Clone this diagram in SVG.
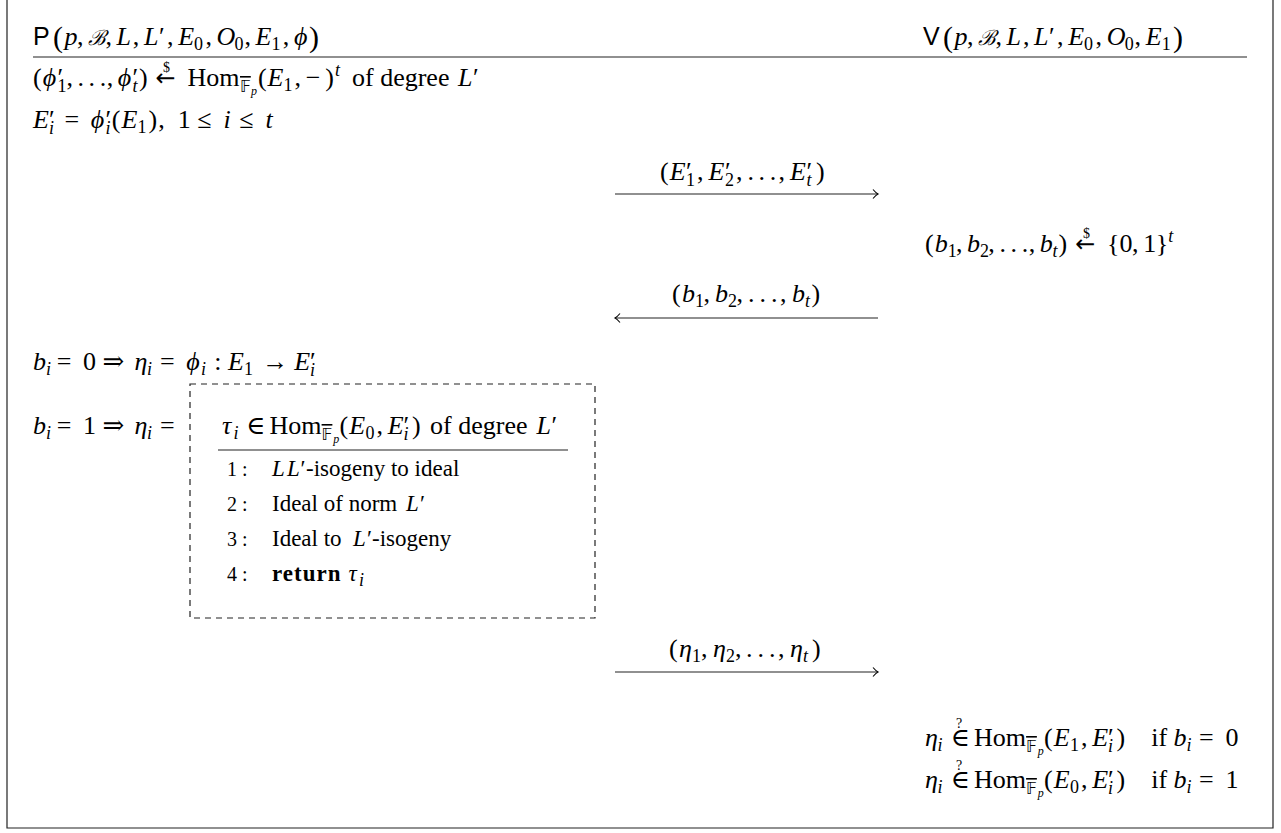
<svg xmlns="http://www.w3.org/2000/svg" width="1281" height="833" viewBox="0 0 1281 833">
<style>
.t{font-family:"Liberation Serif","DejaVu Serif",serif;font-size:26px;fill:#000}
.i{font-style:italic}
.sf{font-family:"Liberation Sans",sans-serif;font-size:25px}
.s{font-size:18px}
.ss{font-size:12px}
.q{font-size:14px}
.b{font-weight:bold}
.bb{font-family:"DejaVu Sans",sans-serif;font-size:16px;fill:#000}
.big{font-size:30px}
.cal{font-size:21px}
.ar{font-family:"DejaVu Sans",sans-serif;font-size:24px}
.sm{font-size:23px}
.nm{font-size:20px}
.ln{stroke:#222;stroke-width:1.2;fill:none}
.ah{stroke:#000;stroke-width:1.1;fill:none}
</style>
<g id="frame"><path class="ln" d="M7,0 V828 H1273 V0"/></g>
<g id="prover">
<text class="t" y="45"><tspan class="sf" x="33">P</tspan><tspan class="big" x="53" y="47">(</tspan><tspan class="i" x="64.5" y="45">p</tspan><tspan x="77.1">,</tspan><tspan class="i cal" x="87.5">ℬ</tspan><tspan x="105.5">,</tspan><tspan class="i" x="116.5">L</tspan><tspan x="132.8">,</tspan><tspan class="i" x="144">L</tspan><tspan x="159">′</tspan><tspan x="167">,</tspan><tspan class="i" x="178.2">E</tspan><tspan class="s" x="194" y="50">0</tspan><tspan x="205.4" y="45">,</tspan><tspan class="i" x="216.5">O</tspan><tspan class="s" x="234.5" y="50">0</tspan><tspan x="244.4" y="45">,</tspan><tspan class="i" x="255.5">E</tspan><tspan class="s" x="271.5" y="50">1</tspan><tspan x="282.7" y="45">,</tspan><tspan class="i" x="293.9">ϕ</tspan><tspan class="big" x="309" y="47">)</tspan></text>
<line class="ln" x1="33" y1="57" x2="1247" y2="57"/>
<text class="t" y="86"><tspan x="33">(</tspan><tspan class="i" x="42.7">ϕ</tspan><tspan x="57.5">′</tspan><tspan class="s" x="57.5" y="92">1</tspan><tspan x="66.4" y="86">,</tspan><tspan x="77.5">.</tspan><tspan x="88.6">.</tspan><tspan x="99.7">.</tspan><tspan x="106.7">,</tspan><tspan class="i" x="117.8">ϕ</tspan><tspan x="132.6">′</tspan><tspan class="s i" x="132.6" y="92">t</tspan><tspan x="139" y="86">)</tspan><tspan class="ar" x="155.6">←</tspan><tspan class="q" x="163" y="72">$</tspan><tspan x="187.6" y="86">Hom</tspan><tspan class="bb" x="240" y="92" text-decoration="overline">𝔽</tspan><tspan class="ss i" x="251" y="95">p</tspan><tspan x="258" y="86">(</tspan><tspan class="i" x="267.4">E</tspan><tspan class="s" x="283.5" y="91">1</tspan><tspan x="294.6" y="86">,</tspan><tspan x="305.8">−</tspan><tspan x="325.2">)</tspan><tspan class="s i" x="335" y="76">t</tspan><tspan x="352" y="86">of degree</tspan><tspan class="i" x="458">L</tspan><tspan x="473">′</tspan></text>
<text class="t" y="128"><tspan class="i" x="33">E</tspan><tspan x="49">′</tspan><tspan class="s i" x="49" y="134">i</tspan><tspan x="64.4" y="128">=</tspan><tspan class="i" x="90.8">ϕ</tspan><tspan x="105.5">′</tspan><tspan class="s i" x="105.5" y="134">i</tspan><tspan x="111.7" y="128">(</tspan><tspan class="i" x="121.4">E</tspan><tspan class="s" x="137.5" y="133">1</tspan><tspan x="148.6" y="128">)</tspan><tspan x="158.3">,</tspan><tspan x="177.8">1</tspan><tspan x="197.2">≤</tspan><tspan class="i" x="223.6">i</tspan><tspan x="239.2">≤</tspan><tspan class="i" x="265.6">t</tspan></text>
<text class="t" y="370"><tspan class="i" x="33">b</tspan><tspan class="s i" x="46" y="375">i</tspan><tspan x="56.7" y="370">=</tspan><tspan x="83.1">0</tspan><tspan x="102.5">⇒</tspan><tspan class="i" x="134.5">η</tspan><tspan class="s i" x="147" y="375">i</tspan><tspan x="159.9" y="370">=</tspan><tspan class="i" x="186.3">ϕ</tspan><tspan class="s i" x="201" y="375">i</tspan><tspan x="214.2" y="370">:</tspan><tspan class="i" x="228.1">E</tspan><tspan class="s" x="244" y="375">1</tspan><tspan x="262.2" y="370">→</tspan><tspan class="i" x="294.2">E</tspan><tspan x="310">′</tspan><tspan class="s i" x="310" y="376">i</tspan></text>
<text class="t" y="434"><tspan class="i" x="33">b</tspan><tspan class="s i" x="46" y="439">i</tspan><tspan x="56.7" y="434">=</tspan><tspan x="83.1">1</tspan><tspan x="102.5">⇒</tspan><tspan class="i" x="134.5">η</tspan><tspan class="s i" x="147" y="439">i</tspan><tspan x="159.9" y="434">=</tspan></text>
</g>
<g id="subroutine">
<rect x="190" y="384" width="405" height="234" fill="none" stroke="#222" stroke-width="1.2" stroke-dasharray="6,5"/>
<text class="t" y="434"><tspan class="i" x="222">τ</tspan><tspan class="s i" x="233.5" y="439">i</tspan><tspan x="245.9" y="434">∈</tspan><tspan x="269.5">Hom</tspan><tspan class="bb" x="321.6" y="440" text-decoration="overline">𝔽</tspan><tspan class="ss i" x="333.3" y="443">p</tspan><tspan x="339.6" y="434">(</tspan><tspan class="i" x="349.3">E</tspan><tspan class="s" x="365.5" y="439">0</tspan><tspan x="376.5" y="434">,</tspan><tspan class="i" x="387.7">E</tspan><tspan x="403.5">′</tspan><tspan class="s i" x="403.5" y="440">i</tspan><tspan x="412.1" y="434">)</tspan><tspan x="430.1">of degree</tspan><tspan class="i" x="536.4">L</tspan><tspan x="551.5">′</tspan></text>
<line class="ln" x1="218" y1="450" x2="568" y2="450"/>
<text class="t nm" x="227" y="476">1 :</text>
<text class="t sm" y="476"><tspan class="i" x="272">L</tspan><tspan class="i" x="287">L</tspan><tspan x="300.5">′</tspan><tspan x="306">-isogeny to ideal</tspan></text>
<text class="t nm" x="227" y="511">2 :</text>
<text class="t sm" y="511"><tspan x="272">Ideal of norm</tspan><tspan class="i" x="406">L</tspan><tspan x="420">′</tspan></text>
<text class="t nm" x="227" y="546">3 :</text>
<text class="t sm" y="546"><tspan x="272">Ideal to</tspan><tspan class="i" x="353">L</tspan><tspan x="367">′</tspan><tspan x="372">-isogeny</tspan></text>
<text class="t nm" x="227" y="581">4 :</text>
<text class="t sm" y="581"><tspan class="b" x="272" letter-spacing="1">return</tspan><tspan class="i" x="348.6">τ</tspan><tspan class="s i" x="359" y="586">i</tspan></text>
</g>
<g id="verifier">
<text class="t" y="45"><tspan class="sf" x="923">V</tspan><tspan class="big" x="943" y="47">(</tspan><tspan class="i" x="954.5" y="45">p</tspan><tspan x="967.1">,</tspan><tspan class="i cal" x="977.5">ℬ</tspan><tspan x="995.5">,</tspan><tspan class="i" x="1006.5">L</tspan><tspan x="1022.9">,</tspan><tspan class="i" x="1034.1">L</tspan><tspan x="1049">′</tspan><tspan x="1057.1">,</tspan><tspan class="i" x="1068.3">E</tspan><tspan class="s" x="1084" y="50">0</tspan><tspan x="1095.5" y="45">,</tspan><tspan class="i" x="1106.7">O</tspan><tspan class="s" x="1124.7" y="50">0</tspan><tspan x="1134.5" y="45">,</tspan><tspan class="i" x="1145.7">E</tspan><tspan class="s" x="1161.7" y="50">1</tspan><tspan class="big" x="1173" y="47">)</tspan></text>
<text class="t" y="252"><tspan x="925">(</tspan><tspan class="i" x="934.7">b</tspan><tspan class="s" x="947.7" y="257">1</tspan><tspan x="956" y="252">,</tspan><tspan class="i" x="967.1">b</tspan><tspan class="s" x="980" y="257">2</tspan><tspan x="988.3" y="252">,</tspan><tspan x="999.5">.</tspan><tspan x="1010.6">.</tspan><tspan x="1021.7">.</tspan><tspan x="1028.7">,</tspan><tspan class="i" x="1039.8">b</tspan><tspan class="s i" x="1052.5" y="257">t</tspan><tspan x="1058.5" y="252">)</tspan><tspan class="ar" x="1075.2">←</tspan><tspan class="q" x="1083" y="238">$</tspan><tspan x="1107.1" y="252">{</tspan><tspan x="1119.6">0</tspan><tspan x="1132.1">,</tspan><tspan x="1143.2">1</tspan><tspan x="1155.7">}</tspan><tspan class="s i" x="1168.2" y="242">t</tspan></text>
<text class="t" y="746"><tspan class="i" x="925">η</tspan><tspan class="s i" x="937.5" y="751">i</tspan><tspan x="950.4" y="746">∈</tspan><tspan class="q" x="956" y="728">?</tspan><tspan x="974" y="746">Hom</tspan><tspan class="bb" x="1026.1" y="752" text-decoration="overline">𝔽</tspan><tspan class="ss i" x="1037.8" y="755">p</tspan><tspan x="1044.1" y="746">(</tspan><tspan class="i" x="1053.8">E</tspan><tspan class="s" x="1070" y="751">1</tspan><tspan x="1081" y="746">,</tspan><tspan class="i" x="1092.2">E</tspan><tspan x="1108">′</tspan><tspan class="s i" x="1108" y="752">i</tspan><tspan x="1116.6" y="746">)</tspan><tspan x="1151.3">if</tspan><tspan class="i" x="1173.5">b</tspan><tspan class="s i" x="1186.5" y="751">i</tspan><tspan x="1199" y="746">=</tspan><tspan x="1225.4">0</tspan></text>
<text class="t" y="788"><tspan class="i" x="925">η</tspan><tspan class="s i" x="937.5" y="793">i</tspan><tspan x="950.4" y="788">∈</tspan><tspan class="q" x="956" y="770">?</tspan><tspan x="974" y="788">Hom</tspan><tspan class="bb" x="1026.1" y="794" text-decoration="overline">𝔽</tspan><tspan class="ss i" x="1037.8" y="797">p</tspan><tspan x="1044.1" y="788">(</tspan><tspan class="i" x="1053.8">E</tspan><tspan class="s" x="1070" y="793">0</tspan><tspan x="1081" y="788">,</tspan><tspan class="i" x="1092.2">E</tspan><tspan x="1108">′</tspan><tspan class="s i" x="1108" y="794">i</tspan><tspan x="1116.6" y="788">)</tspan><tspan x="1151.3">if</tspan><tspan class="i" x="1173.5">b</tspan><tspan class="s i" x="1186.5" y="793">i</tspan><tspan x="1199" y="788">=</tspan><tspan x="1225.4">1</tspan></text>
</g>
<g id="connectors">
<line class="ln" x1="615" y1="194" x2="878" y2="194"/>
<path class="ah" d="M873,189.5 Q876,193 878,194 Q876,195 873,198.5"/>
<text class="t" y="180"><tspan x="660">(</tspan><tspan class="i" x="669.7">E</tspan><tspan x="686">′</tspan><tspan class="s" x="686" y="186">1</tspan><tspan x="697" y="180">,</tspan><tspan class="i" x="708.5">E</tspan><tspan x="725">′</tspan><tspan class="s" x="725" y="186">2</tspan><tspan x="736" y="180">,</tspan><tspan x="747.5">.</tspan><tspan x="758.6">.</tspan><tspan x="769.7">.</tspan><tspan x="778.5">,</tspan><tspan class="i" x="790">E</tspan><tspan x="806.5">′</tspan><tspan class="s i" x="806.5" y="186">t</tspan><tspan x="816" y="180">)</tspan></text>
<line class="ln" x1="615" y1="318" x2="878" y2="318"/>
<path class="ah" d="M620,313.5 Q617,317 615,318 Q617,319 620,322.5"/>
<text class="t" y="302"><tspan x="672">(</tspan><tspan class="i" x="682">b</tspan><tspan class="s" x="695" y="307">1</tspan><tspan x="703.5" y="302">,</tspan><tspan class="i" x="715">b</tspan><tspan class="s" x="728" y="307">2</tspan><tspan x="736.5" y="302">,</tspan><tspan x="748">.</tspan><tspan x="759.5">.</tspan><tspan x="771">.</tspan><tspan x="780">,</tspan><tspan class="i" x="792">b</tspan><tspan class="s i" x="805" y="307">t</tspan><tspan x="811.5" y="302">)</tspan></text>
<line class="ln" x1="615" y1="672" x2="878" y2="672"/>
<path class="ah" d="M873,667.5 Q876,671 878,672 Q876,673 873,676.5"/>
<text class="t" y="657"><tspan x="669">(</tspan><tspan class="i" x="679">η</tspan><tspan class="s" x="692" y="662">1</tspan><tspan x="701" y="657">,</tspan><tspan class="i" x="713">η</tspan><tspan class="s" x="726" y="662">2</tspan><tspan x="735" y="657">,</tspan><tspan x="746">.</tspan><tspan x="757.5">.</tspan><tspan x="769">.</tspan><tspan x="778">,</tspan><tspan class="i" x="790">η</tspan><tspan class="s i" x="803" y="662">t</tspan><tspan x="812" y="657">)</tspan></text>
</g>
</svg>
